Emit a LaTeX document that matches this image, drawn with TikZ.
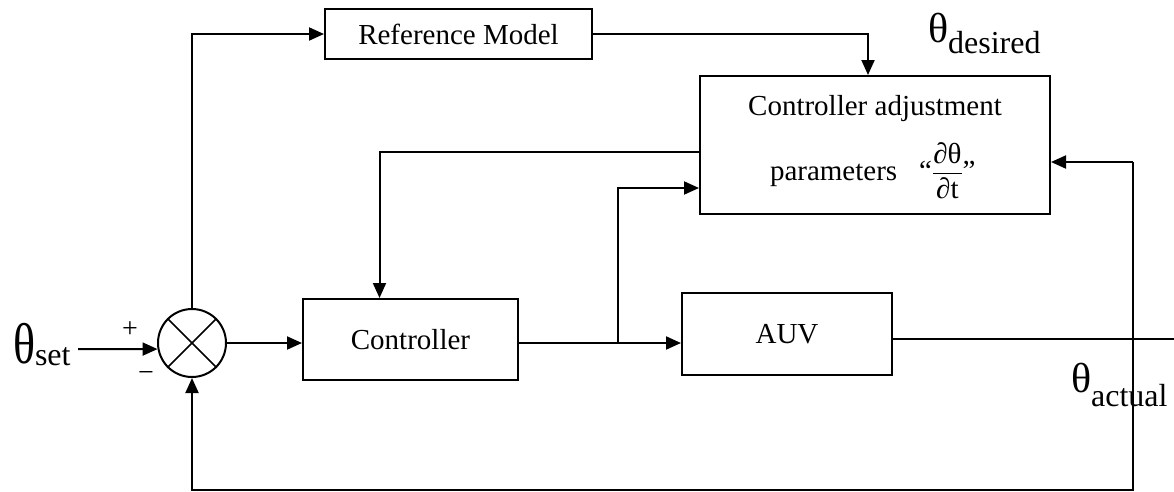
\documentclass[tikz,border=0pt]{standalone}
\usepackage{amsmath}
\usepackage{graphicx}
\usepackage{fontspec}
\setmainfont{Liberation Serif}
\usetikzlibrary{arrows.meta}

% theta with a lowered subscript
\newcommand{\thsub}[4]{\scalebox{1}[#2]{\fontsize{#1}{#1}\selectfont θ}\raisebox{-#3}{\fontsize{32}{32}\selectfont #4}}

\begin{document}
\begin{tikzpicture}[x=1pt,y=-1pt,>={Triangle[length=15pt,width=13pt]},line width=2pt,
    font=\fontsize{29}{34}\selectfont]

    \tikzstyle{block}=[draw,rectangle,inner sep=0pt]
    \tikzstyle{sumnode}=[draw,circle,minimum size=68pt,inner sep=0pt]
    \tikzstyle{sign}=[font=\fontsize{28}{28}\selectfont,inner sep=0pt]
    \tikzstyle{lbl}=[anchor=base west,inner sep=0pt]

    \useasboundingbox (0,0) rectangle (1174,491);

    \node[sumnode] (sum) at (192,343) {};
    \draw[line width=1.5pt] (sum.north west) -- (sum.south east)
                            (sum.north east) -- (sum.south west);

    \node[block,minimum width=267pt,minimum height=50pt]  (refm) at (458.5,34)    {Reference Model};
    \node[block,minimum width=350pt,minimum height=138pt] (adj)  at (875,145)     {};
    \node[block,minimum width=215pt,minimum height=81pt]  (ctrl) at (410.5,339.5) {Controller};
    \node[block,minimum width=210pt,minimum height=82pt]  (auv)  at (787,334)     {AUV};

    \node[anchor=base,inner sep=0pt] (adjtop) at (875,115) {Controller adjustment};
    \node[lbl] (adjbot) at (769,180)
        {parameters\hspace{22pt}“$\genfrac{}{}{1.2pt}{0}{\text{∂θ}}{\text{∂t}}$”};

    \node[lbl] (tset) at (12,363)   {\thsub{46}{1.25}{2pt}{set}};
    \node[lbl] (tdes) at (927,42)   {\thsub{42}{1}{11pt}{desired}};
    \node[lbl] (tact) at (1070,392) {\thsub{42}{1}{14pt}{actual}};
    \node[sign] (plus)  at (130,330) {+};
    \node[sign] (minus) at (146,376) {−};

    \coordinate (in)  at (78,349);
    \coordinate (jn)  at (618,343);
    \coordinate (out) at (1174,339);
    \coordinate (fb)  at (1133,162);
    \coordinate (fbb) at (1133,489.5);

    \draw[->] (in) -- (sum.190);
    \draw[->] (sum.east) -- (sum.east -| ctrl.west);
    \draw[->] (sum.north) |- (refm.west);
    \draw[->] (refm.east) -| ([xshift=-7pt]adj.north);
    \draw[->] ([yshift=-7pt]adj.west) -| ([xshift=-31pt]ctrl.north);
    \draw[->] (ctrl.east |- jn) -- (jn -| auv.west);
    \draw[->] (jn) |- ([yshift=-43pt]adj.west);
    \draw (auv.east |- out) -- (out);
    \draw[->] (fb) -- (fb -| adj.east);
    \draw[->] (fb) -- (fbb) -| (sum.south);
\end{tikzpicture}
\end{document}
